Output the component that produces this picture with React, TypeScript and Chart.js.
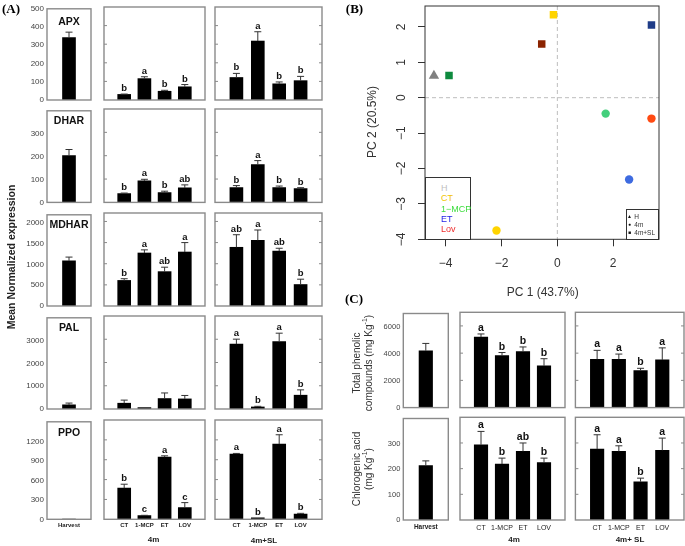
import React, { useEffect, useRef } from 'react';
import { Chart, registerables } from 'chart.js';

Chart.register(...registerables);

const SANS = '"Liberation Sans", Arial, Helvetica, sans-serif';
const SERIF = '"Liberation Serif", "Times New Roman", serif';

// ---------- Panel A data ----------
const TREATMENTS = ['CT', '1-MCP', 'ET', 'LOV'];
const HARVEST_LABEL = ['Harvest'];
const A_GENES = ['APX', 'DHAR', 'MDHAR', 'PAL', 'PPO'];

const APX_MAX = 500;
const APX_TICKS = [0, 100, 200, 300, 400, 500];
const APX_H = [342];
const APX_H_ERR = [30];
const APX_4M = [30, 115, 47, 71];
const APX_4M_ERR = [2, 10, 5, 12];
const APX_4M_LET = ['b', 'a', 'b', 'b'];
const APX_SL = [121, 317, 87, 104];
const APX_SL_ERR = [22, 50, 10, 23];
const APX_SL_LET = ['b', 'a', 'b', 'b'];

const DHAR_MAX = 400;
const DHAR_TICKS = [0, 100, 200, 300];
const DHAR_H = [204];
const DHAR_H_ERR = [27];
const DHAR_4M = [38, 92, 42, 62];
const DHAR_4M_ERR = [2, 7, 6, 13];
const DHAR_4M_LET = ['b', 'a', 'b', 'ab'];
const DHAR_SL = [64, 162, 64, 59];
const DHAR_SL_ERR = [8, 17, 6, 4];
const DHAR_SL_LET = ['b', 'a', 'b', 'b'];

const MDHAR_MAX = 2200;
const MDHAR_TICKS = [0, 500, 1000, 1500, 2000];
const MDHAR_H = [1090];
const MDHAR_H_ERR = [90];
const MDHAR_4M = [605, 1254, 813, 1277];
const MDHAR_4M_ERR = [40, 74, 105, 223];
const MDHAR_4M_LET = ['b', 'a', 'ab', 'a'];
const MDHAR_SL = [1389, 1552, 1299, 508];
const MDHAR_SL_ERR = [297, 246, 67, 126];
const MDHAR_SL_LET = ['ab', 'a', 'ab', 'b'];

const PAL_MAX = 4000;
const PAL_TICKS = [0, 1000, 2000, 3000];
const PAL_H = [180];
const PAL_H_ERR = [80];
const PAL_4M = [249, 60, 450, 434];
const PAL_4M_ERR = [133, 0, 240, 148];
const PAL_4M_LET: string[] = [];
const PAL_SL = [2791, 88, 2900, 594];
const PAL_SL_ERR = [213, 27, 361, 229];
const PAL_SL_LET = ['a', 'b', 'a', 'b'];

const PPO_MAX = 1500;
const PPO_TICKS = [0, 300, 600, 900, 1200];
const PPO_H = [5];
const PPO_H_ERR = [0];
const PPO_4M = [470, 55, 939, 176];
const PPO_4M_ERR = [60, 5, 20, 76];
const PPO_4M_LET = ['b', 'c', 'a', 'c'];
const PPO_SL = [985, 24, 1136, 80];
const PPO_SL_ERR = [10, 0, 141, 10];
const PPO_SL_LET = ['a', 'b', 'a', 'b'];

// ---------- Panel B data ----------
const PCA_NAMES = ['H', 'CT 4m', 'CT 4m+SL', '1-MCP 4m', '1-MCP 4m+SL', 'ET 4m', 'ET 4m+SL', 'Lov 4m', 'Lov 4m+SL'];
const PC1 = [-4.42, -2.18, -0.14, 1.73, -3.88, 2.57, 3.37, 3.37, -0.56];
const PC2 = [0.62, -3.75, 2.34, -0.45, 0.63, -2.31, 2.05, -0.59, 1.52];
const PC1_TICKS = [-4, -2, 0, 2];
const PC2_TICKS = [-4, -3, -2, -1, 0, 1, 2];
const PC1_RANGE = [-4.74, 3.64];
const PC2_RANGE = [-4, 2.59];
const LEGEND_TREAT = ['H', 'CT', '1\u2212MCP', 'ET', 'Lov'];
const LEGEND_TIME = ['H', '4m', '4m+SL'];

// ---------- Panel C data ----------
const TP_MAX = 7000;
const TP_TICKS = [0, 2000, 4000, 6000];
const TP_H = [4228];
const TP_H_ERR = [545];
const TP_4M = [5182, 3818, 4114, 3068];
const TP_4M_ERR = [227, 227, 341, 523];
const TP_4M_LET = ['a', 'b', 'b', 'b'];
const TP_SL = [3545, 3545, 2727, 3500];
const TP_SL_ERR = [660, 387, 159, 886];
const TP_SL_LET = ['a', 'a', 'b', 'a'];

const CGA_MAX = 400;
const CGA_TICKS = [0, 100, 200, 300];
const CGA_H = [214];
const CGA_H_ERR = [19];
const CGA_4M = [293, 218, 267, 224];
const CGA_4M_ERR = [52, 23, 33, 17];
const CGA_4M_LET = ['a', 'b', 'ab', 'b'];
const CGA_SL = [276, 267, 149, 271];
const CGA_SL_ERR = [56, 22, 14, 48];
const CGA_SL_LET = ['a', 'a', 'b', 'a'];

// ---------- styles ----------
const PCA_COLORS = ['#808080', '#FFD400', '#FFD400', '#43CF7C', '#0E8A3E', '#3E6BE0', '#1F3C88', '#FF4A12', '#8B2300'];
const PCA_SHAPES = ['triangle', 'circle', 'rect', 'circle', 'rect', 'circle', 'rect', 'circle', 'rect'];
const PCA_RADIUS: Record<string, number> = { triangle: 6, circle: 4.2, rect: 5.3 };
const LEGEND_TREAT_COLORS = ['#c0c0c0', '#f2c500', '#3ddc3d', '#2323e6', '#ee2c2c'];
const LEGEND_TIME_SYMBOLS = ['\u25B2', '\u25CF', '\u25A0'];

type BarSpec = {
  x: number; y: number; w: number; h: number;
  cats: string[]; values: number[]; errors: number[]; letters?: string[];
  yMax: number; yTicks: number[];
  showY?: boolean; showX?: boolean; tickL?: boolean; tickR?: boolean;
  barW: number; letterSize: number; tickFont: number; xFont: number; xBold: boolean; xPad: number;
};

function BarBox({ s }: { s: BarSpec }) {
  const ref = useRef<HTMLCanvasElement>(null);
  const baseL = s.showY ? 40 : 6;
  const cl = Math.floor(s.x - baseL);
  const ct = Math.floor(s.y - 6);
  const L = s.x - cl;
  const T = s.y - ct;
  const W = Math.ceil(s.x + s.w + 6) - cl;
  const R = W - L - s.w;
  const bottomSpace = s.showX ? 14 : 6;
  const H = Math.ceil(s.y + s.h + bottomSpace) - ct;
  const B = H - T - s.h;

  useEffect(() => {
    const annot = {
      id: 'annot',
      afterDatasetsDraw(chart: any) {
        const { ctx, chartArea: a } = chart;
        const xs = chart.scales.x;
        const ys = chart.scales.y;
        ctx.save();
        s.values.forEach((v, i) => {
          const px = xs.getPixelForValue(i + 1);
          const e = s.errors[i] || 0;
          const pTop = ys.getPixelForValue(v);
          const pErr = ys.getPixelForValue(v + e);
          if (e > 0) {
            ctx.strokeStyle = '#333';
            ctx.lineWidth = 1;
            ctx.beginPath();
            ctx.moveTo(px, pTop);
            ctx.lineTo(px, pErr);
            ctx.moveTo(px - 3.5, pErr);
            ctx.lineTo(px + 3.5, pErr);
            ctx.stroke();
          }
          const lt = s.letters ? s.letters[i] : undefined;
          if (lt) {
            ctx.fillStyle = '#111';
            ctx.font = `bold ${s.letterSize}px ${SANS}`;
            ctx.textAlign = 'center';
            ctx.textBaseline = 'alphabetic';
            ctx.fillText(lt, px, pErr - 3);
          }
        });
        ctx.strokeStyle = '#8a8a8a';
        ctx.lineWidth = 1.4;
        ctx.strokeRect(a.left, a.top, a.right - a.left, a.bottom - a.top);
        ctx.lineWidth = 1;
        s.yTicks.forEach((t) => {
          if (t <= 0 || t >= s.yMax) return;
          const py = ys.getPixelForValue(t);
          ctx.beginPath();
          if (s.tickL) { ctx.moveTo(a.left, py); ctx.lineTo(a.left + 3, py); }
          if (s.tickR) { ctx.moveTo(a.right, py); ctx.lineTo(a.right - 3, py); }
          ctx.stroke();
        });
        ctx.restore();
      },
    };

    const chart = new Chart(ref.current as HTMLCanvasElement, {
      type: 'bar',
      data: {
        labels: ['', ...s.cats, ''],
        datasets: [{
          data: [null, ...s.values, null] as any,
          backgroundColor: '#000',
          borderWidth: 0,
          barThickness: s.barW,
        }],
      },
      options: {
        animation: false,
        responsive: false,
        maintainAspectRatio: false,
        events: [],
        layout: { padding: { left: s.showY ? 0 : L, right: R, top: T, bottom: s.showX ? 0 : B } },
        plugins: { legend: { display: false }, tooltip: { enabled: false } },
        scales: {
          x: {
            type: 'category',
            offset: false,
            display: !!s.showX,
            grid: { display: false, drawTicks: false },
            border: { display: false },
            ticks: {
              autoSkip: false, maxRotation: 0, minRotation: 0, padding: s.xPad,
              color: '#222',
              font: { family: SANS, size: s.xFont, weight: s.xBold ? 'bold' : 'normal' } as any,
            },
            afterFit: (sc: any) => { sc.height = B; },
          },
          y: {
            type: 'linear',
            min: 0,
            max: s.yMax,
            display: !!s.showY,
            grid: { display: false, drawTicks: false },
            border: { display: false },
            afterBuildTicks: (sc: any) => { sc.ticks = s.yTicks.map((v) => ({ value: v })); },
            ticks: {
              padding: 3,
              color: '#444',
              font: { family: SANS, size: s.tickFont },
              callback: (v: any) => String(v),
            },
            afterFit: (sc: any) => { sc.width = L; },
          },
        },
      },
      plugins: [annot],
    });
    return () => chart.destroy();
  }, []);

  return (
    <canvas
      ref={ref}
      width={W}
      height={H}
      style={{ position: 'absolute', left: cl, top: ct, width: W, height: H }}
    />
  );
}

function fmtMinus(v: number) {
  return v < 0 ? '\u2212' + Math.abs(v) : String(v);
}

function Scatter() {
  const ref = useRef<HTMLCanvasElement>(null);
  useEffect(() => {
    const pcaPlugin = {
      id: 'pca',
      beforeDatasetsDraw(chart: any) {
        const { ctx, chartArea: a } = chart;
        const xs = chart.scales.x;
        const ys = chart.scales.y;
        ctx.save();
        ctx.strokeStyle = '#bdbdbd';
        ctx.lineWidth = 1;
        ctx.setLineDash([4, 3]);
        const x0 = xs.getPixelForValue(0);
        const y0 = ys.getPixelForValue(0);
        ctx.beginPath();
        ctx.moveTo(x0, a.top); ctx.lineTo(x0, a.bottom);
        ctx.moveTo(a.left, y0); ctx.lineTo(a.right, y0);
        ctx.stroke();
        ctx.restore();
      },
      afterDraw(chart: any) {
        const { ctx, chartArea: a } = chart;
        const ys = chart.scales.y;
        ctx.save();
        ctx.strokeStyle = '#333';
        ctx.lineWidth = 1;
        ctx.strokeRect(a.left, a.top, a.right - a.left, a.bottom - a.top);
        ctx.fillStyle = '#333';
        ctx.font = `12px ${SANS}`;
        ctx.textAlign = 'center';
        ctx.textBaseline = 'middle';
        PC2_TICKS.forEach((v) => {
          const py = ys.getPixelForValue(v);
          ctx.save();
          ctx.translate(a.left - 23, py);
          ctx.rotate(-Math.PI / 2);
          ctx.fillText(fmtMinus(v), 0, 0);
          ctx.restore();
        });
        ctx.restore();
      },
    };
    const chart = new Chart(ref.current as HTMLCanvasElement, {
      type: 'scatter',
      data: {
        datasets: PCA_NAMES.map((n, i) => ({
          label: n,
          data: [{ x: PC1[i], y: PC2[i] }],
          pointStyle: PCA_SHAPES[i] as any,
          pointRadius: PCA_RADIUS[PCA_SHAPES[i]],
          backgroundColor: PCA_COLORS[i],
          borderColor: PCA_COLORS[i],
          borderWidth: 0,
        })),
      },
      options: {
        animation: false,
        responsive: false,
        maintainAspectRatio: false,
        events: [],
        layout: { padding: { left: 0, right: 26, top: 5, bottom: 0 } },
        plugins: { legend: { display: false }, tooltip: { enabled: false } },
        scales: {
          x: {
            type: 'linear',
            min: PC1_RANGE[0],
            max: PC1_RANGE[1],
            afterBuildTicks: (sc: any) => { sc.ticks = PC1_TICKS.map((v) => ({ value: v })); },
            grid: { display: true, drawOnChartArea: false, drawTicks: true, tickLength: 7, color: '#333' },
            border: { display: false },
            ticks: { padding: 10, color: '#333', font: { family: SANS, size: 12 }, callback: (v: any) => fmtMinus(Number(v)) },
            afterFit: (sc: any) => { sc.height = 60.7; },
          },
          y: {
            type: 'linear',
            min: PC2_RANGE[0],
            max: PC2_RANGE[1],
            afterBuildTicks: (sc: any) => { sc.ticks = PC2_TICKS.map((v) => ({ value: v })); },
            grid: { display: true, drawOnChartArea: false, drawTicks: true, tickLength: 7, color: '#333' },
            border: { display: false },
            ticks: { display: false },
            afterFit: (sc: any) => { sc.width = 65; },
          },
        },
      },
      plugins: [pcaPlugin],
    });
    return () => chart.destroy();
  }, []);
  return <canvas ref={ref} width={325} height={300} style={{ position: 'absolute', left: 360, top: 0, width: 325, height: 300 }} />;
}

function Txt(props: any) {
  const { x, y, size, bold, color = '#000', rot, family = SANS, align = 'center', children } = props;
  const tr = align === 'left' ? 'translate(0,-50%)' : 'translate(-50%,-50%)';
  return (
    <div
      style={{
        position: 'absolute', left: x, top: y,
        transform: tr + (rot ? ' rotate(-90deg)' : ''),
        fontSize: size, fontWeight: bold ? 'bold' : 'normal', color, fontFamily: family,
        whiteSpace: 'nowrap', lineHeight: 1.15, textAlign: 'center',
      }}
    >
      {children}
    </div>
  );
}

// layout of panel A
const A_COLS = [[47, 44], [98, 107], [209, 113]];
const A_ROWS = [[7, 99], [109, 99.7], [213, 99.5], [316, 99.5], [420, 99.3]];
const A_NAME_Y = [20.7, 120, 224.3, 326.7, 431.7];

const A_DATA = [
  { max: APX_MAX, ticks: APX_TICKS, h: APX_H, he: APX_H_ERR, m: APX_4M, me: APX_4M_ERR, ml: APX_4M_LET, s: APX_SL, se: APX_SL_ERR, sl: APX_SL_LET },
  { max: DHAR_MAX, ticks: DHAR_TICKS, h: DHAR_H, he: DHAR_H_ERR, m: DHAR_4M, me: DHAR_4M_ERR, ml: DHAR_4M_LET, s: DHAR_SL, se: DHAR_SL_ERR, sl: DHAR_SL_LET },
  { max: MDHAR_MAX, ticks: MDHAR_TICKS, h: MDHAR_H, he: MDHAR_H_ERR, m: MDHAR_4M, me: MDHAR_4M_ERR, ml: MDHAR_4M_LET, s: MDHAR_SL, se: MDHAR_SL_ERR, sl: MDHAR_SL_LET },
  { max: PAL_MAX, ticks: PAL_TICKS, h: PAL_H, he: PAL_H_ERR, m: PAL_4M, me: PAL_4M_ERR, ml: PAL_4M_LET, s: PAL_SL, se: PAL_SL_ERR, sl: PAL_SL_LET },
  { max: PPO_MAX, ticks: PPO_TICKS, h: PPO_H, he: PPO_H_ERR, m: PPO_4M, me: PPO_4M_ERR, ml: PPO_4M_LET, s: PPO_SL, se: PPO_SL_ERR, sl: PPO_SL_LET },
];

const A_SPECS: BarSpec[] = [];
A_DATA.forEach((d, r) => {
  const [top, h] = A_ROWS[r];
  const last = r === A_DATA.length - 1;
  const common = { y: top, h, yMax: d.max, yTicks: d.ticks, showX: last, barW: 13, letterSize: 9.5, tickFont: 8, xFont: 6, xBold: true, xPad: 2.4 };
  A_SPECS.push({ ...common, x: A_COLS[0][0], w: A_COLS[0][1], cats: HARVEST_LABEL, values: d.h, errors: d.he, showY: true });
  A_SPECS.push({ ...common, x: A_COLS[1][0], w: A_COLS[1][1], cats: TREATMENTS, values: d.m, errors: d.me, letters: d.ml, tickL: true });
  A_SPECS.push({ ...common, x: A_COLS[2][0], w: A_COLS[2][1], cats: TREATMENTS, values: d.s, errors: d.se, letters: d.sl, tickL: true, tickR: true });
});

// layout of panel C
const C_COLS = [[403.3, 45], [454, 111], [568.7, 115.3]];
const C_ROWS = [[312.3, 102], [417.3, 102.7]];
const C_DATA = [
  { max: TP_MAX, ticks: TP_TICKS, h: TP_H, he: TP_H_ERR, m: TP_4M, me: TP_4M_ERR, ml: TP_4M_LET, s: TP_SL, se: TP_SL_ERR, sl: TP_SL_LET },
  { max: CGA_MAX, ticks: CGA_TICKS, h: CGA_H, he: CGA_H_ERR, m: CGA_4M, me: CGA_4M_ERR, ml: CGA_4M_LET, s: CGA_SL, se: CGA_SL_ERR, sl: CGA_SL_LET },
];
const C_SPECS: BarSpec[] = [];
C_DATA.forEach((d, r) => {
  const [top, h] = C_ROWS[r];
  const last = r === C_DATA.length - 1;
  const common = { y: top, h, yMax: d.max, yTicks: d.ticks, showX: last, barW: 13.5, letterSize: 10.5, tickFont: 7.5, xFont: 7, xBold: false, xPad: 3.8 };
  C_SPECS.push({ ...common, x: C_COLS[0][0], w: C_COLS[0][1], cats: HARVEST_LABEL, values: d.h, errors: d.he, showY: true, xFont: 6.5, xBold: true, xPad: 3.4 });
  C_SPECS.push({ ...common, x: C_COLS[1][0], w: C_COLS[1][1], cats: TREATMENTS, values: d.m, errors: d.me, letters: d.ml, tickL: true });
  C_SPECS.push({ ...common, x: C_COLS[2][0], w: C_COLS[2][1], cats: TREATMENTS, values: d.s, errors: d.se, letters: d.sl, tickL: true, tickR: true });
});

const SUP = (t: string) => <span style={{ fontSize: '0.7em', verticalAlign: 'super', lineHeight: 0 }}>{t}</span>;

export default function App() {
  useEffect(() => {
    document.body.style.margin = '0';
  }, []);
  return (
    <div style={{ position: 'absolute', left: 0, top: 0, width: 685, height: 546, overflow: 'hidden', background: '#fff', fontFamily: SANS }}>
      {A_SPECS.map((s, i) => <BarBox key={'a' + i} s={s} />)}
      {C_SPECS.map((s, i) => <BarBox key={'c' + i} s={s} />)}
      <Scatter />

      {/* Panel labels */}
      <Txt x={11} y={9} size={13} bold family={SERIF}>(A)</Txt>
      <Txt x={354.5} y={8.5} size={13} bold family={SERIF}>(B)</Txt>
      <Txt x={354} y={298.5} size={13} bold family={SERIF}>(C)</Txt>

      {/* Panel A texts */}
      <Txt x={10.5} y={256.5} size={10.5} bold rot color="#222">Mean Normalized expression</Txt>
      {A_GENES.map((g, i) => (
        <Txt key={g} x={69} y={A_NAME_Y[i]} size={10.5} bold color="#111">{g}</Txt>
      ))}
      <Txt x={153.5} y={540} size={8} bold color="#222">4m</Txt>
      <Txt x={264} y={540.5} size={8} bold color="#222">4m+SL</Txt>

      {/* Panel B texts */}
      <Txt x={542.7} y={292.7} size={12} color="#333">PC 1 (43.7%)</Txt>
      <Txt x={372.5} y={121.7} size={12} rot color="#333">PC 2 (20.5%)</Txt>
      <div style={{ position: 'absolute', left: 425, top: 177.3, width: 46.3, height: 62.5, border: '1px solid #333', boxSizing: 'border-box', background: '#fff' }} />
      {LEGEND_TREAT.map((t, i) => (
        <Txt key={t} x={441} y={187.7 + i * 10.4} size={9} align="left" color={LEGEND_TREAT_COLORS[i]}>{t}</Txt>
      ))}
      <div style={{ position: 'absolute', left: 625.7, top: 209.3, width: 33.8, height: 30.5, border: '1px solid #333', boxSizing: 'border-box', background: '#fff' }} />
      {LEGEND_TIME.map((t, i) => (
        <React.Fragment key={t}>
          <Txt x={629.5} y={216.7 + i * 8.3} size={5} color="#111">{LEGEND_TIME_SYMBOLS[i]}</Txt>
          <Txt x={634.3} y={216.7 + i * 8.3} size={6.5} align="left" color="#333">{t}</Txt>
        </React.Fragment>
      ))}

      {/* Panel C texts */}
      <Txt x={362} y={363.3} size={10} rot color="#333">Total phenolic<br />compounds (mg Kg{SUP('-1')})</Txt>
      <Txt x={362} y={468.6} size={10} rot color="#333">Chlorogenic acid<br />(mg Kg{SUP('-1')})</Txt>
      <Txt x={514} y={540} size={8} bold color="#222">4m</Txt>
      <Txt x={630} y={540} size={8} bold color="#222">4m+ SL</Txt>
    </div>
  );
}
